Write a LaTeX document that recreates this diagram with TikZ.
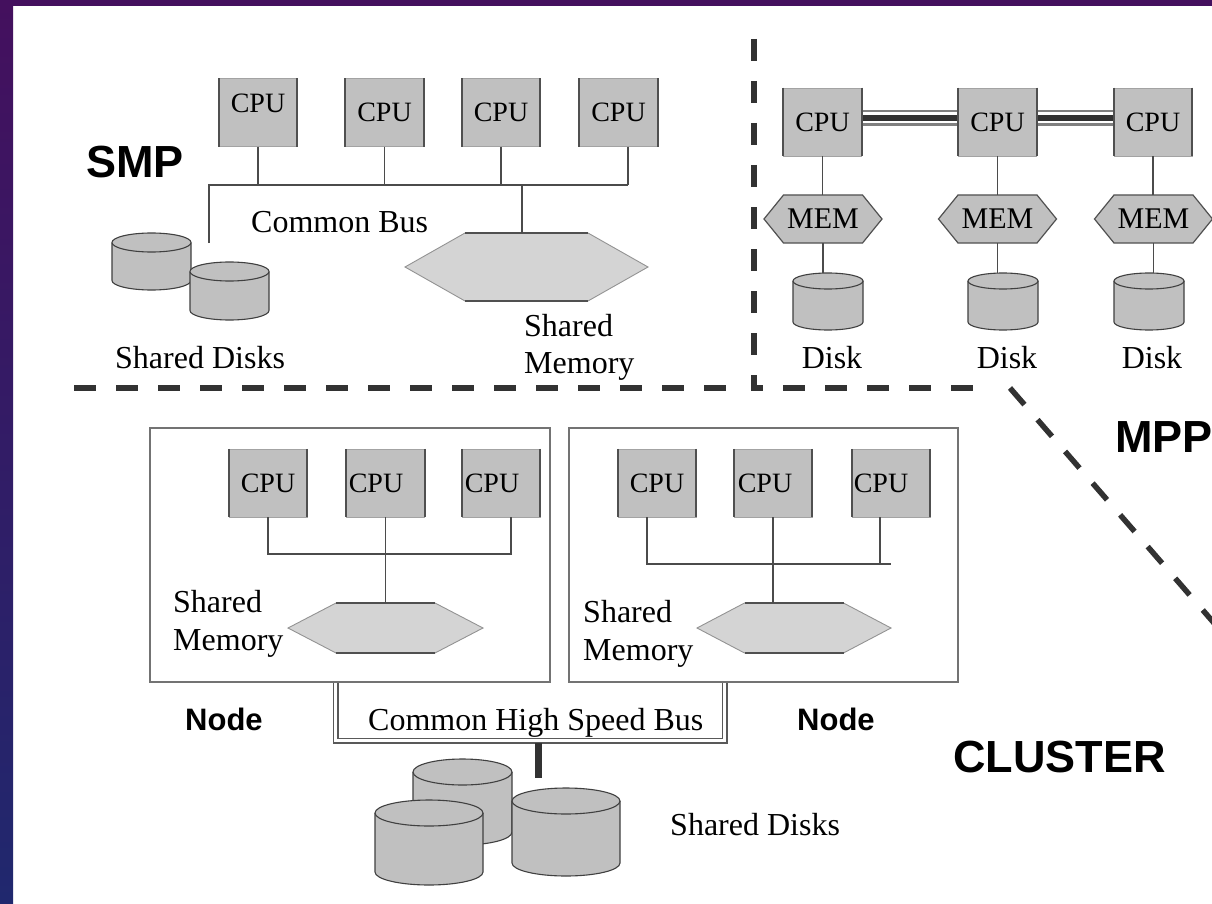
\documentclass[tikz,border=0pt]{standalone}
\usepackage{fontspec}
\setmainfont{Liberation Serif}
\newfontfamily\headfont{Liberation Sans}

\definecolor{slidepurple}{RGB}{68,16,94}
\definecolor{slideblue}{RGB}{32,40,110}
\definecolor{boxgray}{RGB}{192,192,192}
\definecolor{hexgray}{RGB}{212,212,212}
\definecolor{wiregray}{RGB}{75,75,75}
\definecolor{edgegray}{RGB}{80,80,80}
\definecolor{framegray}{RGB}{115,115,115}
\definecolor{dashgray}{RGB}{50,50,50}

% hexagon: style, cx, cy, half flat width, half total width, half height
\newcommand{\hexpath}[6]{%
  \path[#1] (#2-#5,#3) -- (#2-#4,#3-#6) -- (#2+#4,#3-#6) -- (#2+#5,#3)
    -- (#2+#4,#3+#6) -- (#2-#4,#3+#6) -- cycle;}
% darker top and bottom rims of a hexagon
\newcommand{\hexrims}[4]{%
  \draw[hexrim] (#1-#3,#2-#4) -- (#1+#3,#2-#4) (#1-#3,#2+#4) -- (#1+#3,#2+#4);}
% disk cylinder: cx, top, bottom, x radius, y radius
\newcommand{\diskat}[5]{%
  \filldraw[disk] (#1-#4,#2+#5) -- (#1-#4,#3-#5)
    arc[start angle=180,end angle=360,x radius=#4pt,y radius=#5pt]
    -- (#1+#4,#2+#5)
    arc[start angle=0,end angle=180,x radius=#4pt,y radius=#5pt] -- cycle;
  \draw[disk] (#1-#4,#2+#5)
    arc[start angle=180,end angle=360,x radius=#4pt,y radius=#5pt];}

\begin{document}
\begin{tikzpicture}[x=1pt,y=-1pt,
  wire/.style={draw=wiregray, line width=1.7},
  cpubox/.style={rectangle, fill=boxgray, draw=boxgray!85!black, line width=0.5,
    minimum width=78, minimum height=68, inner sep=0},
  cpulabel/.style={font=\fontsize{28}{30}\selectfont, inner sep=0},
  cpuside/.style={draw=edgegray, line width=2},
  hexcore/.style={rectangle, inner sep=0, draw=none},
  bighex/.style={fill=hexgray, draw=gray!85, line width=0.9},
  hexrim/.style={draw=edgegray, line width=1.6},
  memhex/.style={fill=boxgray, draw=edgegray, line width=1.2},
  memlabel/.style={font=\fontsize{30}{32}\selectfont, inner sep=0},
  disk/.style={fill=boxgray, draw=black!75, line width=1.1},
  txt/.style={font=\fontsize{32}{36}\selectfont, inner sep=0},
  headlabel/.style={font=\headfont\bfseries\fontsize{45}{50}\selectfont, inner sep=0},
  nodelabel/.style={font=\headfont\bfseries\fontsize{31}{34}\selectfont, inner sep=0},
  nodeframe/.style={rectangle, draw=framegray, line width=2, fill=white, inner sep=0},
  dashline/.style={draw=dashgray, line width=5.5, dash pattern=on 22pt off 20pt},
  busdouble/.style={draw=black!65, double=white, double distance=3.2, line width=1.4},
  stub/.style={draw=dashgray, line width=7},
  linkouter/.style={draw=gray, line width=16},
  linkgap/.style={draw=white, line width=11},
  linkcore/.style={draw=dashgray, line width=5.5}]

\clip (0,0) rectangle (1212,904);
\fill[white] (0,0) rectangle (1212,904);
% slide frame
\fill[slidepurple] (0,0) rectangle (1212,6);
\shade[top color=slidepurple, bottom color=slideblue] (0,0) rectangle (13,904);

% ---------- region separators ----------
\coordinate (sepL) at (74,388);
\coordinate (sepM) at (745,388);
\coordinate (sepTop) at (754,39);
\coordinate (sepCorner) at (754,388);
\coordinate (sepR) at (993,388);
\coordinate (diagA) at (1010,388);
\coordinate (diagB) at (1214,623);
\draw[dashline] (sepL) -- (sepM);
\draw[dashline] (sepTop) -- (sepCorner) -- (sepR);
\draw[dashline] (diagA) -- (diagB);

% ---------- SMP ----------
\node[headlabel, anchor=base west] (smp) at (86,178) {SMP};
\node[cpubox, label={[cpulabel, yshift=9.5]center:CPU}] (s1) at (258,112.5) {};
\node[cpubox, label={[cpulabel]center:CPU}] (s2) at (384.5,112.5) {};
\node[cpubox, label={[cpulabel]center:CPU}] (s3) at (501,112.5) {};
\node[cpubox, label={[cpulabel]center:CPU}] (s4) at (618.5,112.5) {};
\foreach \n in {s1,s2,s3,s4}
  \draw[cpuside] (\n.north west) -- (\n.south west) (\n.north east) -- (\n.south east);

\coordinate (sbusL) at (209,185);
\coordinate (sbusR) at (628,185);
\coordinate (sjoin) at (522,185);
\coordinate (sdisk) at (209,243);
\draw[wire] (s1.south) -- (s1.south |- sbusL);
\draw[wire] (s2.south) -- (s2.south |- sbusL);
\draw[wire] (s3.south) -- (s3.south |- sbusL);
\draw[wire] (sbusR |- s4.south) -- (sbusR);
\draw[wire] (sdisk) -- (sbusL) -- (sbusR);

\hexpath{bighex}{526.5}{267}{61.5}{121.5}{34}
\hexrims{526.5}{267}{61.5}{34}
\node[hexcore, minimum width=123, minimum height=68] (smem) at (526.5,267) {};
\draw[wire] (sjoin) -- (sjoin |- smem.north);

\node[txt, anchor=base west] (commonbus) at (251,233) {Common Bus};
\diskat{151.5}{233}{290}{39.5}{9.5}
\diskat{229.5}{262}{320}{39.5}{9.5}
\node[txt, anchor=base west] (sdisks) at (115,368) {Shared Disks};
\node[txt, anchor=base west] (smemA) at (524,336) {Shared};
\node[txt, anchor=base west] (smemB) at (524,373) {Memory};

% ---------- MPP ----------
\node[cpubox, label={[cpulabel]center:CPU}] (m1) at (822.5,122) {};
\node[cpubox, label={[cpulabel]center:CPU}] (m2) at (997.5,122) {};
\node[cpubox, label={[cpulabel]center:CPU}] (m3) at (1153,122) {};
\foreach \a/\b in {m1/m2,m2/m3}{
  \draw[linkouter] ([yshift=4]\a.east) -- ([yshift=4]\b.west);
  \draw[linkgap] ([yshift=4]\a.east) -- ([yshift=4]\b.west);
  \draw[linkcore] ([yshift=4]\a.east) -- ([yshift=4]\b.west);
}
\foreach \n in {m1,m2,m3}
  \draw[cpuside] (\n.north west) -- (\n.south west) (\n.north east) -- (\n.south east);

\hexpath{memhex}{823}{219}{39.5}{59}{24}
\hexpath{memhex}{997.5}{219}{39.5}{59}{24}
\hexpath{memhex}{1153.5}{219}{39.5}{59}{24}
\node[hexcore, memlabel, minimum width=79, minimum height=48] (mm1) at (823,219) {MEM};
\node[hexcore, memlabel, minimum width=79, minimum height=48] (mm2) at (997.5,219) {MEM};
\node[hexcore, memlabel, minimum width=79, minimum height=48] (mm3) at (1153.5,219) {MEM};

\diskat{828}{273}{330}{35}{8}
\diskat{1003}{273}{330}{35}{8}
\diskat{1149}{273}{330}{35}{8}
\coordinate (md1) at (823,273);
\coordinate (md2) at (997.5,273);
\coordinate (md3) at (1153.5,273);
\foreach \i in {1,2,3}{
  \draw[wire] (m\i.south) -- (m\i.south |- mm\i.north);
  \draw[wire] (mm\i.south) -- (md\i);
}
\node[txt, anchor=base] (dl1) at (832,368) {Disk};
\node[txt, anchor=base] (dl2) at (1007,368) {Disk};
\node[txt, anchor=base] (dl3) at (1152,368) {Disk};
\node[headlabel, anchor=base west] (mpp) at (1115,452) {MPP};

% ---------- CLUSTER ----------
\node[nodeframe, minimum width=400, minimum height=254] (nb1) at (350,555) {};
\node[nodeframe, minimum width=389, minimum height=254] (nb2) at (763.5,555) {};

\node[cpubox, label={[cpulabel]center:CPU}] (c1) at (268,483) {};
\node[cpubox, label={[cpulabel, xshift=-9.5]center:CPU}] (c2) at (385.5,483) {};
\node[cpubox, label={[cpulabel, xshift=-9]center:CPU}] (c3) at (501,483) {};
\node[cpubox, label={[cpulabel]center:CPU}] (c4) at (657,483) {};
\node[cpubox, label={[cpulabel, xshift=-8]center:CPU}] (c5) at (773,483) {};
\node[cpubox, label={[cpulabel, xshift=-10]center:CPU}] (c6) at (891,483) {};
\foreach \n in {c1,c2,c3,c4,c5,c6}
  \draw[cpuside] (\n.north west) -- (\n.south west) (\n.north east) -- (\n.south east);

% node 1 bus and memory
\hexpath{bighex}{385.5}{628}{49.5}{97.5}{25}
\hexrims{385.5}{628}{49.5}{25}
\node[hexcore, minimum width=99, minimum height=50] (cm1) at (385.5,628) {};
\coordinate (cb1L) at (268,554);
\coordinate (cb1R) at (511,554);
\draw[wire] (c1.south) -- (cb1L) -- (cb1R) -- (cb1R |- c3.south);
\draw[wire] (c2.south) -- (c2.south |- cm1.north);

% node 2 bus and memory
\hexpath{bighex}{794}{628}{49.5}{97}{25}
\hexrims{794}{628}{49.5}{25}
\node[hexcore, minimum width=99, minimum height=50] (cm2) at (794,628) {};
\coordinate (cb2L) at (647,564);
\coordinate (cb2R) at (891,564);
\coordinate (cb2T) at (880,564);
\draw[wire] (cb2L |- c4.south) -- (cb2L) -- (cb2R);
\draw[wire] (cb2T |- c6.south) -- (cb2T);
\draw[wire] (c5.south) -- (c5.south |- cm2.north);

\node[txt, anchor=base west] (cmA1) at (173,612) {Shared};
\node[txt, anchor=base west] (cmB1) at (173,650) {Memory};
\node[txt, anchor=base west] (cmA2) at (583,622) {Shared};
\node[txt, anchor=base west] (cmB2) at (583,660) {Memory};

% high speed bus between the nodes
\coordinate (hbL) at (335.5,740.5);
\coordinate (hbR) at (724.5,740.5);
\draw[busdouble] (hbL |- nb1.south) -- (hbL) -- (hbR) -- (hbR |- nb2.south);
\node[txt, anchor=base west] (hsbus) at (368,730) {Common High Speed Bus};
\node[nodelabel, anchor=base west] (node1) at (185,730) {Node};
\node[nodelabel, anchor=base west] (node2) at (797,730) {Node};

% shared disks of the cluster
\coordinate (stubtop) at (538,743);
\coordinate (stubbot) at (538,778);
\draw[stub] (stubtop) -- (stubbot);
\diskat{462.5}{759}{845}{49.5}{13}
\diskat{429}{800}{885}{54}{13}
\diskat{566}{788}{876}{54}{13}
\node[txt, anchor=base west] (cdisks) at (670,835) {Shared Disks};
\node[headlabel, anchor=base west] (cluster) at (953,772) {CLUSTER};
\end{tikzpicture}
\end{document}
